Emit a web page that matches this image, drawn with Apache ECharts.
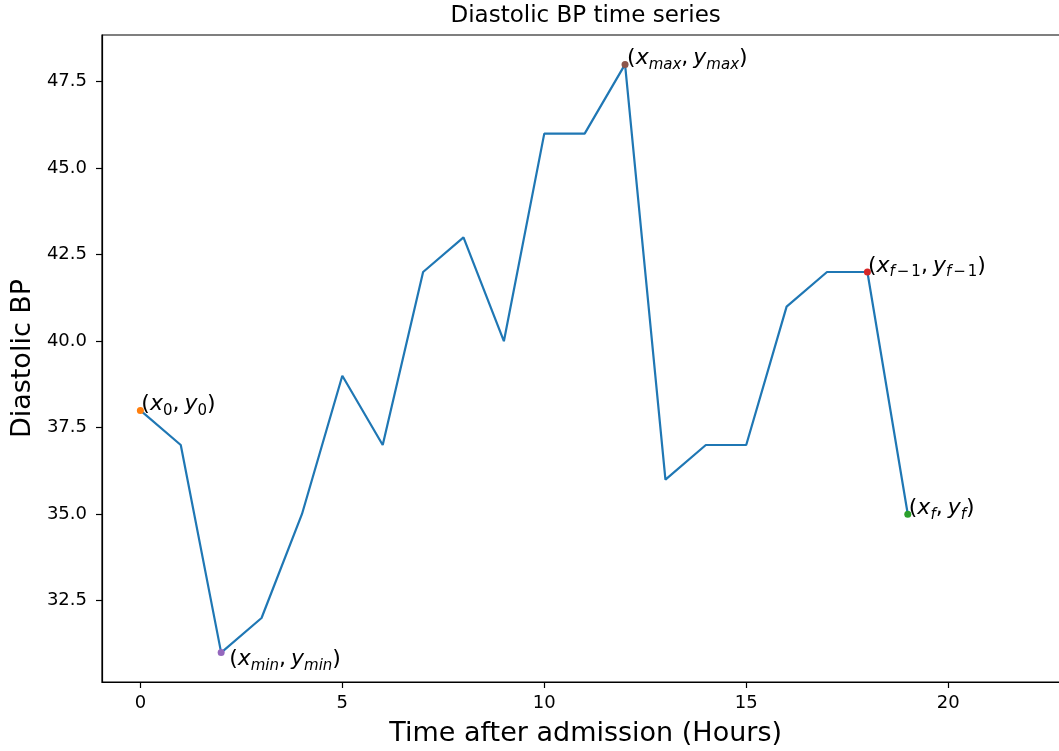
<!DOCTYPE html>
<html>
<head>
<meta charset="utf-8">
<title>Diastolic BP time series</title>
<script src="https://cdn.jsdelivr.net/npm/echarts@6/dist/echarts.min.js"></script>
<style>
  html, body { margin: 0; padding: 0; background: #ffffff; }
  #chart { width: 1059px; height: 751px; }
</style>
</head>
<body>
<div id="chart"></div>
<script>
// Hours since admission and the diastolic reading taken at each hour
const hours = [0, 1, 2, 3, 4, 5, 6, 7, 8, 9, 10, 11, 12, 13, 14, 15, 16, 17, 18, 19];
const diastolic = [38, 37, 31, 32, 35, 39, 37, 42, 43, 40, 46, 46, 48, 36, 37, 37, 41, 42, 42, 35];

// Tick positions and their printed labels
const xTicks = [0, 5, 10, 15, 20];
const xTickLabels = ['0', '5', '10', '15', '20'];
const yTicks = [32.5, 35, 37.5, 40, 42.5, 45, 47.5];
const yTickLabels = ['32.5', '35.0', '37.5', '40.0', '42.5', '45.0', '47.5'];

// Highlighted readings: first, minimum, maximum, second-to-last, last
const markerIndex = [0, 2, 12, 18, 19];
const markerColors = ['#ff7f0e', '#9467bd', '#8c564b', '#d62728', '#2ca02c'];
const markerText = [
  '{p|(}{v|x}{sn|0}{c|,}{v|y}{sn|0}{p|)}',
  '{p|(}{v|x}{si|min}{c|,}{v|y}{si|min}{p|)}',
  '{p|(}{v|x}{si|max}{c|,}{v|y}{si|max}{p|)}',
  '{p|(}{v|x}{si|f}{sm|\u2212}{sn|1}{c|,}{v|y}{si|f}{sm|\u2212}{sn|1}{p|)}',
  '{p|(}{v|x}{si|f}{c|,}{v|y}{si|f}{p|)}'
];

const FONT = 'DejaVu Sans';
const X_MIN = -0.95, X_MAX = 23;
const Y_MIN = 30.15, Y_MAX = 48.85;

// plot box in pixels (the right edge runs past the canvas)
const PLOT_LEFT = 102, PLOT_TOP = 35, PLOT_BOTTOM = 682;
const PX_PER_HOUR = 40.39;
const plotWidth = (X_MAX - X_MIN) * PX_PER_HOUR;
const plotRight = 1059 - PLOT_LEFT - plotWidth;

const mathRich = {
  p:  { fontFamily: FONT, fontSize: 22, color: '#000', lineHeight: 24, verticalAlign: 'top' },
  c:  { fontFamily: FONT, fontSize: 22, color: '#000', lineHeight: 24, verticalAlign: 'top', padding: [0, 5, 0, 0] },
  v:  { fontFamily: FONT, fontSize: 22, fontStyle: 'italic', color: '#000', lineHeight: 24, verticalAlign: 'top' },
  si: { fontFamily: FONT, fontSize: 15, fontStyle: 'italic', color: '#000', lineHeight: 15, verticalAlign: 'top', padding: [10, 0, 0, 0] },
  sm: { fontFamily: FONT, fontSize: 15, color: '#000', lineHeight: 15, verticalAlign: 'top', padding: [10, 2, 0, 2] },
  sn: { fontFamily: FONT, fontSize: 15, color: '#000', lineHeight: 15, verticalAlign: 'top', padding: [10, 0, 0, 0] }
};

const labelOffsets = [[-2.5, -5], [4.5, 8], [-1.5, -5], [-3, -5], [-2.5, -5]];

const markerSeries = markerIndex.map((idx, k) => ({
  type: 'scatter',
  data: [[hours[idx], diastolic[idx]]],
  symbol: 'circle',
  symbolSize: 7,
  itemStyle: { color: markerColors[k], opacity: 1 },
  z: 5,
  silent: true,
  label: {
    show: true,
    position: 'right',
    distance: 0,
    offset: labelOffsets[k],
    color: '#000',
    formatter: markerText[k],
    rich: mathRich
  }
}));

const chart = echarts.init(document.getElementById('chart'), null, { renderer: 'canvas' });

chart.setOption({
  animation: false,
  backgroundColor: '#ffffff',
  textStyle: { fontFamily: FONT },
  title: {
    text: 'Diastolic BP time series',
    left: PLOT_LEFT + plotWidth / 2 - 5,
    textAlign: 'center',
    top: 0,
    textStyle: { fontFamily: FONT, fontSize: 23, fontWeight: 'normal', color: '#000' }
  },
  grid: {
    left: PLOT_LEFT,
    top: PLOT_TOP,
    right: plotRight,
    bottom: 751 - PLOT_BOTTOM,
    show: true,
    borderColor: '#000',
    borderWidth: 1.2,
    containLabel: false,
    outerBoundsMode: 'none'
  },
  xAxis: {
    type: 'value',
    min: X_MIN,
    max: X_MAX,
    name: 'Time after admission (Hours)',
    nameLocation: 'middle',
    nameGap: 38,
    nameTextStyle: { fontFamily: FONT, fontSize: 27, color: '#000' },
    axisLine: { show: true, onZero: false, lineStyle: { color: '#000', width: 1.2 } },
    axisTick: { show: true, length: 6, customValues: xTicks, lineStyle: { color: '#000', width: 1.2 } },
    axisLabel: {
      show: true,
      customValues: xTicks,
      margin: 12,
      fontFamily: FONT,
      fontSize: 18,
      color: '#000',
      formatter: (val) => xTickLabels[xTicks.indexOf(val)]
    },
    splitLine: { show: false }
  },
  yAxis: {
    type: 'value',
    min: Y_MIN,
    max: Y_MAX,
    name: 'Diastolic BP',
    nameLocation: 'middle',
    nameGap: 62,
    nameRotate: 90,
    nameTextStyle: { fontFamily: FONT, fontSize: 27, color: '#000' },
    axisLine: { show: true, onZero: false, lineStyle: { color: '#000', width: 1.2 } },
    axisTick: { show: true, length: 6, customValues: yTicks, lineStyle: { color: '#000', width: 1.2 } },
    axisLabel: {
      show: true,
      customValues: yTicks,
      margin: 15,
      fontFamily: FONT,
      fontSize: 18,
      color: '#000',
      formatter: (val) => yTickLabels[yTicks.indexOf(val)]
    },
    splitLine: { show: false }
  },
  series: [
    {
      type: 'line',
      data: hours.map((h, i) => [h, diastolic[i]]),
      symbol: 'none',
      lineStyle: { color: '#1f77b4', width: 2.2 },
      z: 3,
      silent: true
    },
    ...markerSeries
  ]
});
</script>
</body>
</html>
